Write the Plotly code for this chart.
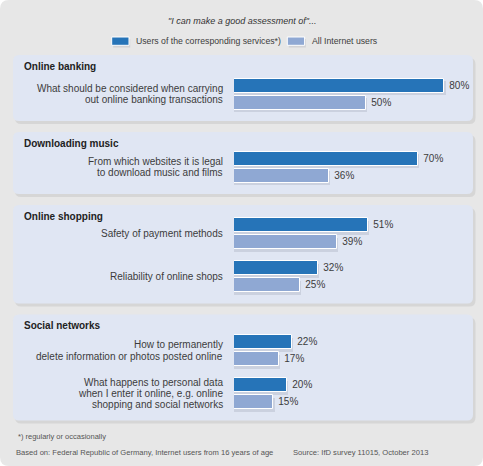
import plotly.graph_objects as go

# ---------------- data ----------------
title_text = "\"I can make a good assessment of\"..."
groups = ["Online banking", "Downloading music", "Online shopping", "Social networks"]
items = [
    "What should be considered when carrying\nout online banking transactions",
    "From which websites it is legal\nto download music and films",
    "Safety of payment methods",
    "Reliability of online shops",
    "How to permanently\ndelete information or photos posted online",
    "What happens to personal data\nwhen I enter it online, e.g. online\nshopping and social networks",
]
item_group = [0, 1, 2, 2, 3, 3]
users_services = [80, 70, 51, 32, 22, 20]
all_internet = [50, 36, 39, 25, 17, 15]
series_names = ["Users of the corresponding services*)", "All Internet users"]
footnote = "*) regularly or occasionally"
based_on = "Based on: Federal Republic of Germany, Internet users from 16 years of age"
source = "Source: IfD survey 11015, October 2013"

# ---------------- style / layout ----------------
W, H = 483, 466
FONT = "Liberation Sans, Arial, sans-serif"
C_DARK = "#2674b8"
C_LIGHT = "#8fa8d3"
C_PANEL = "#e0e6f3"
C_BG = "#e7e7e7"
C_TEXT = "#3c3c3c"

first_offset = [39, 35, 28.5, 36]
item_step = 43
bottom_pad = 27
panel_gap = 11
top0 = 55
bar_h = 14
pair_off = 8.5
line_h = 11.2

# compute vertical layout (pixel units, y axis reversed 0..H)
centers = []
panels = []
top = top0
for g in range(len(groups)):
    idx = [i for i, gg in enumerate(item_group) if gg == g]
    c = top + first_offset[g]
    for k, i in enumerate(idx):
        centers.append(c + k * item_step)
    bottom = centers[-1] + bottom_pad
    panels.append((top, bottom))
    top = bottom + panel_gap

px_per_pct = 2.63
x0_px, x1_px = 234, 473
xmax = (x1_px - x0_px) / px_per_pct

fig = go.Figure()

y_dark = [c - pair_off for c in centers]
y_light = [c + pair_off for c in centers]

# soft shadows under bars
for ys, vals in ((y_dark, users_services), (y_light, all_internet)):
    fig.add_trace(go.Bar(
        x=[v + 0.5 for v in vals], y=[y + 2.5 for y in ys], orientation="h",
        width=bar_h, marker=dict(color="rgba(60,70,90,0.13)", line=dict(width=0)),
        hoverinfo="skip", showlegend=False,
    ))

for ys, vals, col, name in ((y_dark, users_services, C_DARK, series_names[0]),
                            (y_light, all_internet, C_LIGHT, series_names[1])):
    fig.add_trace(go.Bar(
        x=vals, y=ys, orientation="h", width=bar_h, name=name,
        marker=dict(color=col, line=dict(color="white", width=1)),
        texttemplate=" %{x}%", textposition="outside", constraintext="none",
        textfont=dict(family=FONT, size=10, color=C_TEXT),
        cliponaxis=False, showlegend=False,
    ))

shapes = []
annotations = []


def rrect_path(x0, y0, x1, y1, rpx):
    rx = rpx / W
    ry = rpx
    X0, X1 = x0 / W, x1 / W
    return (f"M {X0+rx},{y0} L {X1-rx},{y0} Q {X1},{y0} {X1},{y0+ry} "
            f"L {X1},{y1-ry} Q {X1},{y1} {X1-rx},{y1} L {X0+rx},{y1} "
            f"Q {X0},{y1} {X0},{y1-ry} L {X0},{y0+ry} Q {X0},{y0} {X0+rx},{y0} Z")


# outer background
shapes.append(dict(type="path", xref="paper", yref="y", path=rrect_path(0, 0, W, H, 9),
                   fillcolor=C_BG, line=dict(width=0), layer="below"))

# panels
for g, (t, b) in enumerate(panels):
    shapes.append(dict(type="path", xref="paper", yref="y",
                       path=rrect_path(15, t + 3, 475.5, b + 3, 6),
                       fillcolor="rgba(0,0,0,0.07)", line=dict(width=0), layer="below"))
    shapes.append(dict(type="path", xref="paper", yref="y",
                       path=rrect_path(13, t, 473, b, 6),
                       fillcolor=C_PANEL, line=dict(width=0), layer="below"))
    annotations.append(dict(text=f"<b>{groups[g]}</b>", xref="paper", yref="y",
                            x=21.5 / W, y=t + 11, xanchor="left", yanchor="middle",
                            showarrow=False, font=dict(family=FONT, size=10, color="#222")))

# item labels (manual line spacing)
for i, lab in enumerate(items):
    lines = lab.split("\n")
    n = len(lines)
    for k, ln in enumerate(lines):
        annotations.append(dict(text=ln, xref="paper", yref="y", x=225 / W,
                                y=centers[i] + (k - (n - 1) / 2) * line_h,
                                xanchor="right", yanchor="middle", showarrow=False,
                                font=dict(family=FONT, size=10, color=C_TEXT)))

# title
annotations.append(dict(text=f"<i>{title_text}</i>", xref="paper", yref="y", x=241.5 / W, y=21,
                        xanchor="center", yanchor="middle", showarrow=False,
                        font=dict(family=FONT, size=9, color="#333")))

# legend
leg = [(111.7, C_DARK, series_names[0]), (287.3, C_LIGHT, series_names[1])]
for lx, col, name in leg:
    shapes.append(dict(type="rect", xref="paper", yref="y", x0=(lx + 1.5) / W, x1=(lx + 18.5) / W,
                       y0=39, y1=47.5, fillcolor="rgba(60,70,90,0.13)", line=dict(width=0)))
    shapes.append(dict(type="rect", xref="paper", yref="y", x0=lx / W, x1=(lx + 17.3) / W,
                       y0=37, y1=45.3, fillcolor=col, line=dict(color="white", width=1)))
    annotations.append(dict(text=name, xref="paper", yref="y", x=(lx + 22.5) / W, y=41,
                            xanchor="left", yanchor="middle", showarrow=False,
                            font=dict(family=FONT, size=8.7, color=C_TEXT)))

# footer
annotations.append(dict(text=footnote, xref="paper", yref="y", x=15.5 / W, y=436.5,
                        xanchor="left", yanchor="middle", showarrow=False,
                        font=dict(family=FONT, size=7.5, color="#555")))
annotations.append(dict(text=based_on, xref="paper", yref="y", x=14 / W, y=452,
                        xanchor="left", yanchor="middle", showarrow=False,
                        font=dict(family=FONT, size=7.6, color="#555")))
annotations.append(dict(text=source, xref="paper", yref="y", x=290.5 / W, y=452,
                        xanchor="left", yanchor="middle", showarrow=False,
                        font=dict(family=FONT, size=7.6, color="#555")))

fig.update_layout(
    width=W, height=H,
    margin=dict(l=0, r=0, t=0, b=0),
    paper_bgcolor="white", plot_bgcolor="rgba(0,0,0,0)",
    barmode="overlay", bargap=0,
    xaxis=dict(domain=[x0_px / W, x1_px / W], range=[0, xmax], visible=False, fixedrange=True),
    yaxis=dict(range=[H, 0], domain=[0, 1], visible=False, fixedrange=True),
    shapes=shapes, annotations=annotations,
    showlegend=False,
    font=dict(family=FONT),
)

fig.write_html("out.html", config={"displayModeBar": False},
               post_script="document.body.style.margin='0';document.body.style.overflow='hidden';")
